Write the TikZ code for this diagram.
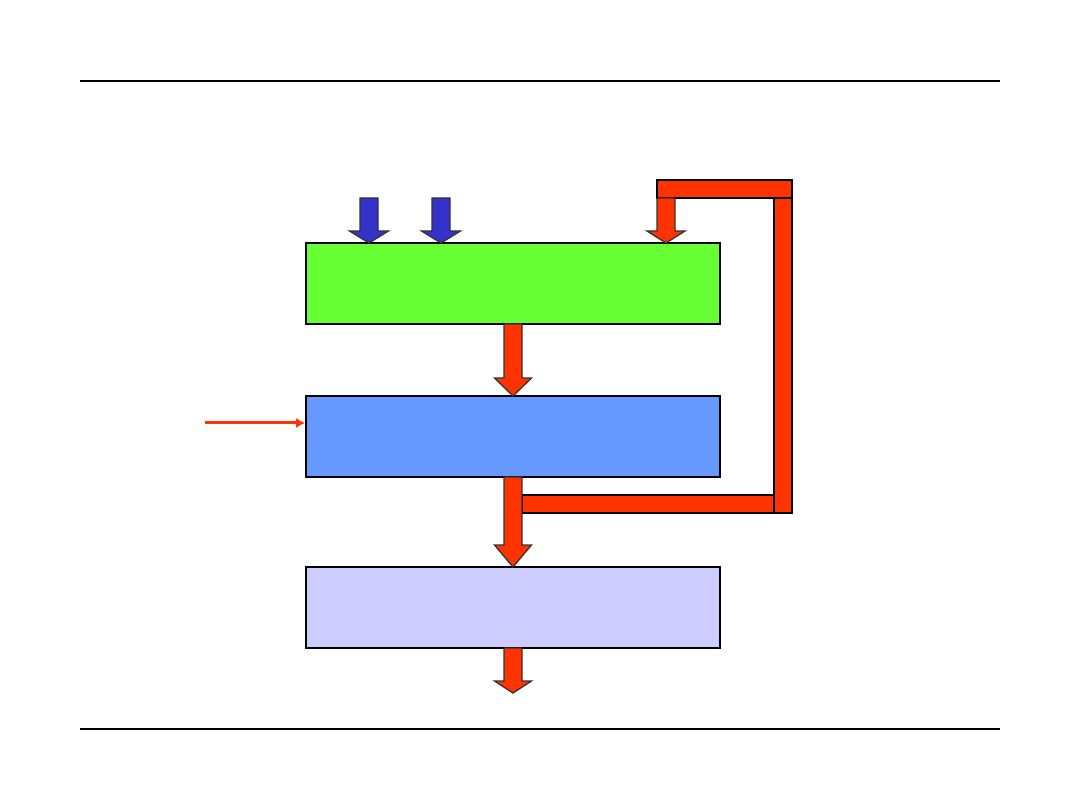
\documentclass[tikz,border=0pt]{standalone}
\usetikzlibrary{calc,arrows.meta}
\definecolor{redf}{HTML}{FF3300}
\definecolor{bluea}{HTML}{3333CC}
\definecolor{greenb}{HTML}{66FF33}
\definecolor{blueb}{HTML}{6699FF}
\definecolor{lavb}{HTML}{CCCCFF}
\tikzset{
  box/.style={draw=black, line width=1.8pt, rectangle, inner sep=0pt, minimum width=414pt, minimum height=81pt},
  barstyle/.style={draw=black, line width=1.8pt, fill=redf},
  blockarr/.style={draw=black!80, line width=1.3pt, line join=miter},
  rule/.style={draw=black, line width=1.8pt}
}
% #1 center x, #2 shaft top y, #3 head start y, #4 tip y, #5 shaft half width, #6 head half width, #7 fill
\newcommand\myblockarrow[7]{%
  \draw[blockarr, fill=#7] (#1-#5,#2) -- (#1+#5,#2) -- (#1+#5,#3) -- (#1+#6,#3) -- (#1,#4) -- (#1-#6,#3) -- (#1-#5,#3) -- cycle;}
\begin{document}
\begin{tikzpicture}[x=1pt,y=-1pt]
\useasboundingbox (0,0) rectangle (1080,810);
% horizontal rules
\coordinate (tl) at (80,81); \coordinate (tr) at (1000,81);
\coordinate (bl) at (80,729); \coordinate (br) at (1000,729);
\draw[rule] (tl) -- (tr);
\draw[rule] (bl) -- (br);
% boxes
\node[box, fill=greenb] (g) at (513,283.5) {};
\node[box, fill=blueb] (b) at (513,436.5) {};
\node[box, fill=lavb] (l) at (513,607.5) {};
% feedback bars
\draw[barstyle] (657,180) rectangle (792,198);
\draw[barstyle] (774,198) rectangle (792,513);
\draw[barstyle] (522,495) rectangle (774,513);
% blue input arrows
\myblockarrow{369}{198}{231}{243}{9}{19.5}{bluea}
\myblockarrow{441}{198}{231}{243}{9}{19.5}{bluea}
% red feedback arrow into green
\myblockarrow{666}{198}{231}{243}{9}{19}{redf}
% green -> blue
\myblockarrow{513}{324}{378}{396}{9}{18.5}{redf}
% blue -> lavender
\myblockarrow{513}{477}{545}{567}{9}{18.5}{redf}
% lavender -> out
\myblockarrow{513}{648}{681}{693}{9}{18.5}{redf}
% thin red arrow into blue box
\coordinate (src) at (205,423);
\draw[redf, line width=3pt, -{Latex[length=9pt,width=10pt]}] (src) -- (src -| b.west);
\end{tikzpicture}
\end{document}
